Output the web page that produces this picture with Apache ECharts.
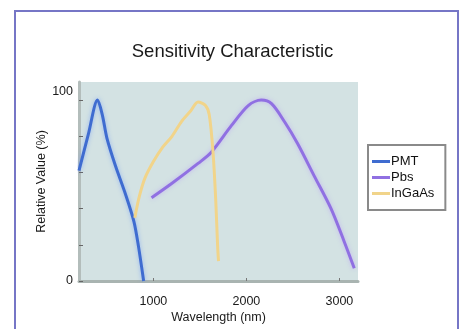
<!DOCTYPE html>
<html>
<head>
<meta charset="utf-8">
<script src="https://cdn.jsdelivr.net/npm/echarts@6/dist/echarts.min.js"></script>
<style>
  html, body { margin: 0; padding: 0; background: #fff; }
  #frame { position: absolute; left: 14px; top: 10px; width: 441px; height: 330px; border: 2px solid #7676c6; }
  #main { position: absolute; left: 0; top: 0; width: 465px; height: 329px; }
</style>
</head>
<body>
<div id="frame"></div>
<div id="main"></div>
<script>
// wavelength (nm) / relative value (%)
var pmtWave = [200, 300, 400, 450, 500, 590, 700, 790, 840, 895];
var pmtVal = [61, 81, 100, 92, 79, 64, 48, 33, 19, 0];

var pbsWave = [980, 1200, 1480, 1620, 1840, 2020, 2160, 2270, 2410, 2550, 2730, 2910, 3050, 3160];
var pbsVal = [46, 54, 65, 71, 86, 97, 100, 98, 88, 76, 58, 40, 22, 7];

var ingaasWave = [800, 850, 910, 1000, 1100, 1200, 1300, 1400, 1480, 1560, 1600, 1640, 1670, 1690, 1700];
var ingaasVal = [35, 47, 57, 66, 74, 80, 88, 94, 99, 97, 92, 72, 45, 20, 11];

var xTicks = [1000, 2000, 3000];
var yLabels = [0, 100];

function pairs(xs, ys) {
    var out = [];
    for (var i = 0; i < xs.length; ++i) {
        out.push([xs[i], ys[i]]);
    }
    return out;
}

var myChart = echarts.init(document.getElementById('main'));

var font = 'Liberation Sans, Arial, sans-serif';

var option = {
    animation: false,
    textStyle: { fontFamily: font },
    title: {
        text: 'Sensitivity Characteristic',
        left: 'center',
        top: 37,
        textStyle: { fontSize: 18.5, fontWeight: 'normal', color: '#1a1a1a', fontFamily: font }
    },
    legend: {
        orient: 'vertical',
        left: 368,
        top: 145,
        padding: [10, 11, 10, 4],
        itemGap: 3,
        itemWidth: 18,
        itemHeight: 3,
        icon: 'rect',
        backgroundColor: '#ffffff',
        borderColor: '#8a8a8a',
        borderWidth: 2,
        textStyle: { fontSize: 13, color: '#111', padding: [0, 0, 0, -4] },
        data: ['PMT', 'Pbs', 'InGaAs']
    },
    grid: {
        left: 79,
        right: 107,
        top: 82,
        bottom: 46,
        show: true,
        backgroundColor: '#d3e2e3',
        borderWidth: 0
    },
    xAxis: {
        type: 'value',
        min: 200,
        max: 3200,
        name: 'Wavelength (nm)',
        nameLocation: 'middle',
        nameGap: 30,
        nameMoveOverlap: false,
        nameTextStyle: { fontSize: 12.5, color: '#1a1a1a' },
        axisLine: { show: true, lineStyle: { color: '#a9b4b1', width: 3 } },
        axisTick: { show: true, inside: true, length: 3, customValues: xTicks, lineStyle: { color: '#777' } },
        axisLabel: {
            customValues: xTicks,
            margin: 14,
            fontSize: 12.5,
            color: '#1a1a1a',
            formatter: function (v) { return String(v); }
        },
        splitLine: { show: false }
    },
    yAxis: {
        type: 'value',
        min: 0,
        max: 110,
        interval: 20,
        name: 'Relative Value (%)',
        nameLocation: 'middle',
        nameGap: 31,
        nameMoveOverlap: false,
        nameTextStyle: { fontSize: 12.5, color: '#1a1a1a' },
        axisLine: { show: true, lineStyle: { color: '#b3bdbb', width: 3 } },
        axisTick: { show: true, inside: true, length: 4, lineStyle: { color: '#666' } },
        axisLabel: {
            margin: 6,
            fontSize: 12.5,
            color: '#1a1a1a',
            showMaxLabel: false,
            formatter: function (v) {
                if (yLabels.indexOf(v) < 0) return '';
                return v === 100 ? '{top|100}' : String(v);
            },
            rich: {
                top: { fontSize: 12.5, color: '#1a1a1a', padding: [0, 0, 17, 0] }
            }
        },
        splitLine: { show: false }
    },
    series: [{
        name: 'PMT',
        type: 'line',
        smooth: 0.3,
        showSymbol: false,
        color: '#3f6cd0',
        lineStyle: { width: 3, color: '#3f6cd0', shadowColor: 'rgba(90,140,255,0.5)', shadowBlur: 4 },
        data: pairs(pmtWave, pmtVal)
    }, {
        name: 'Pbs',
        type: 'line',
        smooth: 0.3,
        showSymbol: false,
        color: '#9070e2',
        lineStyle: { width: 3, color: '#9070e2', shadowColor: 'rgba(180,140,255,0.5)', shadowBlur: 4 },
        data: pairs(pbsWave, pbsVal)
    }, {
        name: 'InGaAs',
        type: 'line',
        smooth: 0.3,
        showSymbol: false,
        color: '#f1d48a',
        lineStyle: { width: 3, color: '#f1d48a' },
        data: pairs(ingaasWave, ingaasVal)
    }]
};

myChart.setOption(option);
</script>
</body>
</html>
